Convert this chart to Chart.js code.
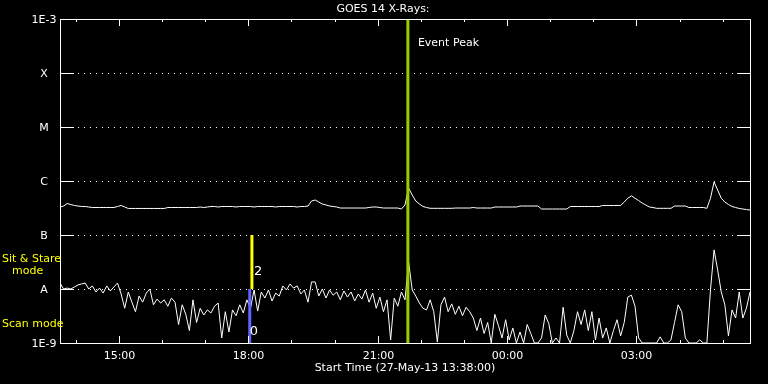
<!DOCTYPE html>
<html>
<head>
<meta charset="utf-8">
<title>GOES 14 X-Rays</title>
<script src="https://cdn.jsdelivr.net/npm/chart.js@4.4.1/dist/chart.umd.min.js"></script>
<style>
    html, body { margin: 0; padding: 0; background: #000; }
    #wrap { width: 768px; height: 384px; }
</style>
</head>
<body>
<div id="wrap"><canvas id="goes" width="768" height="384"></canvas></div>
<script>
'use strict';

// --- data (5 minute samples from 13:38 UT, 27-May-13) ---
const startMinute = 13 * 60 + 38;
const stepMinutes = 5;
const spanMinutes = 960;

const yDecades = [1e-9, 1e-8, 1e-7, 1e-6, 1e-5, 1e-4, 1e-3];
const yTickLabels = ['1E-9', 'A', 'B', 'C', 'M', 'X', '1E-3'];

// 1-8 A channel
const longFlux = [
    3.30e-7, 3.44e-7, 3.83e-7, 3.67e-7, 3.52e-7, 3.44e-7, 3.37e-7, 3.37e-7, 3.30e-7, 3.23e-7,
    3.23e-7, 3.23e-7, 3.23e-7, 3.23e-7, 3.23e-7, 3.23e-7, 3.37e-7, 3.52e-7, 3.30e-7, 3.10e-7,
    3.10e-7, 3.10e-7, 3.10e-7, 3.10e-7, 3.10e-7, 3.10e-7, 3.10e-7, 3.10e-7, 3.10e-7, 3.10e-7,
    3.23e-7, 3.23e-7, 3.23e-7, 3.23e-7, 3.23e-7, 3.23e-7, 3.23e-7, 3.23e-7, 3.23e-7, 3.30e-7,
    3.23e-7, 3.30e-7, 3.37e-7, 3.37e-7, 3.30e-7, 3.37e-7, 3.37e-7, 3.37e-7, 3.37e-7, 3.30e-7,
    3.37e-7, 3.37e-7, 3.37e-7, 3.37e-7, 3.30e-7, 3.37e-7, 3.37e-7, 3.37e-7, 3.37e-7, 3.37e-7,
    3.30e-7, 3.37e-7, 3.37e-7, 3.37e-7, 3.37e-7, 3.37e-7, 3.30e-7, 3.37e-7, 3.37e-7, 3.44e-7,
    4.26e-7, 4.45e-7, 4.08e-7, 3.75e-7, 3.60e-7, 3.44e-7, 3.37e-7, 3.30e-7, 3.16e-7, 3.16e-7,
    3.16e-7, 3.16e-7, 3.16e-7, 3.16e-7, 3.16e-7, 3.16e-7, 3.23e-7, 3.30e-7, 3.30e-7, 3.23e-7,
    3.16e-7, 3.16e-7, 3.16e-7, 3.16e-7, 3.16e-7, 3.03e-7, 3.60e-7, 7.40e-7, 5.50e-7, 4.26e-7,
    3.75e-7, 3.37e-7, 3.23e-7, 3.12e-7, 3.12e-7, 3.12e-7, 3.12e-7, 3.12e-7, 3.12e-7, 3.12e-7,
    3.16e-7, 3.16e-7, 3.16e-7, 3.16e-7, 3.16e-7, 3.23e-7, 3.16e-7, 3.16e-7, 3.16e-7, 3.16e-7,
    3.16e-7, 3.30e-7, 3.30e-7, 3.30e-7, 3.30e-7, 3.30e-7, 3.30e-7, 3.30e-7, 3.44e-7, 3.44e-7,
    3.44e-7, 3.44e-7, 3.44e-7, 3.44e-7, 3.03e-7, 3.03e-7, 3.03e-7, 3.03e-7, 3.03e-7, 3.03e-7,
    3.03e-7, 3.03e-7, 3.37e-7, 3.37e-7, 3.37e-7, 3.37e-7, 3.37e-7, 3.37e-7, 3.37e-7, 3.37e-7,
    3.37e-7, 3.52e-7, 3.52e-7, 3.52e-7, 3.52e-7, 3.52e-7, 3.52e-7, 4.08e-7, 4.80e-7, 5.30e-7,
    4.80e-7, 4.35e-7, 3.90e-7, 3.60e-7, 3.30e-7, 3.23e-7, 3.12e-7, 3.12e-7, 3.12e-7, 3.12e-7,
    3.12e-7, 3.44e-7, 3.44e-7, 3.44e-7, 3.44e-7, 3.23e-7, 3.23e-7, 3.23e-7, 3.23e-7, 3.23e-7,
    3.12e-7, 4.80e-7, 9.60e-7, 6.80e-7, 4.80e-7, 4.08e-7, 3.67e-7, 3.37e-7, 3.23e-7, 3.10e-7,
    3.03e-7, 2.96e-7, 2.90e-7
];

// 0.5-4 A channel
const shortFlux = [
    1.29e-8, 1.00e-8, 1.04e-8, 1.00e-8, 1.09e-8, 1.19e-8, 1.24e-8, 1.29e-8, 1.00e-8, 1.14e-8,
    8.8e-9, 1.04e-8, 8.4e-9, 1.14e-8, 9.2e-9, 1.09e-8, 1.29e-8, 8.1e-9, 4.4e-9, 8.8e-9,
    5.7e-9, 3.8e-9, 7.4e-9, 5.7e-9, 8.4e-9, 1.00e-8, 5.1e-9, 6.5e-9, 5.5e-9, 6.3e-9,
    4.8e-9, 6.8e-9, 5.7e-9, 2.2e-9, 5.1e-9, 3.4e-9, 1.7e-9, 6.3e-9, 2.4e-9, 4.4e-9,
    3.3e-9, 4.1e-9, 3.6e-9, 4.8e-9, 5.5e-9, 1.24e-9, 3.8e-9, 1.6e-9, 4.1e-9, 3.2e-9,
    5.1e-9, 3.6e-9, 6.3e-9, 4.4e-9, 9.6e-9, 3.9e-9, 8.8e-9, 6.8e-9, 9.6e-9, 6.0e-9,
    8.4e-9, 7.4e-9, 1.14e-8, 9.6e-9, 1.24e-8, 1.04e-8, 1.14e-8, 8.1e-9, 9.6e-9, 5.7e-9,
    1.35e-8, 1.35e-8, 7.4e-9, 1.00e-8, 6.8e-9, 9.6e-9, 7.7e-9, 8.8e-9, 6.3e-9, 9.2e-9,
    7.1e-9, 8.8e-9, 6.0e-9, 8.1e-9, 6.5e-9, 9.6e-9, 5.7e-9, 8.4e-9, 4.4e-9, 7.1e-9,
    3.8e-9, 6.3e-9, 1.14e-9, 6.8e-9, 4.8e-9, 8.8e-9, 6.3e-9, 3.16e-8, 9.6e-9, 7.4e-9,
    5.5e-9, 4.4e-9, 4.1e-9, 6.3e-9, 3.8e-9, 1.04e-9, 5.1e-9, 7.1e-9, 3.8e-9, 5.3e-9,
    3.4e-9, 4.8e-9, 3.2e-9, 4.6e-9, 3.8e-9, 2.9e-9, 1.7e-9, 2.9e-9, 1.5e-9, 2.4e-9,
    1.0e-9, 3.4e-9, 2.1e-9, 1.24e-9, 2.7e-9, 1.14e-9, 1.9e-9, 1.0e-9, 1.6e-9, 1.0e-9,
    2.2e-9, 1.5e-9, 1.0e-9, 1.0e-9, 1.24e-9, 3.3e-9, 2.3e-9, 1.0e-9, 1.24e-9, 1.0e-9,
    4.6e-9, 1.4e-9, 1.0e-9, 1.7e-9, 3.8e-9, 2.2e-9, 4.1e-9, 1.7e-9, 3.8e-9, 1.14e-9,
    2.9e-9, 1.24e-9, 1.9e-9, 1.0e-9, 1.7e-9, 2.7e-9, 1.35e-9, 2.4e-9, 7.1e-9, 7.7e-9,
    4.8e-9, 1.24e-9, 1.0e-9, 1.0e-9, 1.0e-9, 1.0e-9, 1.0e-9, 1.3e-9, 1.0e-9, 1.0e-9,
    1.14e-9, 2.4e-9, 5.1e-9, 3.8e-9, 1.24e-9, 1.0e-9, 1.0e-9, 1.0e-9, 1.14e-9, 1.0e-9,
    1.0e-9, 9.6e-9, 5.3e-8, 2.25e-8, 8.8e-9, 5.1e-9, 1.35e-9, 4.1e-9, 2.9e-9, 8.8e-9,
    2.9e-9, 4.4e-9, 8.8e-9
];

// markers: minutes after start
const eventPeakMinute = 484;      // 21:42
const sitStareMinute = 267;       // 18:05
const scanMinute = 264;           // 18:02

// --- helpers ---
function toPoints(values) {
    return values.map((v, i) => ({ x: i * stepMinutes, y: v }));
}
function vLine(minute, lo, hi) {
    return [{ x: minute, y: lo }, { x: minute, y: hi }];
}
function hhmm(minuteOfDay) {
    const m = ((minuteOfDay % 1440) + 1440) % 1440;
    const h = Math.floor(m / 60), mm = m % 60;
    return String(h).padStart(2, '0') + ':' + String(mm).padStart(2, '0');
}

const FONT = '11px "DejaVu Sans"';

const axesPlugin = {
    id: 'idlAxes',
    beforeDatasetsDraw(chart) {
        const { ctx, chartArea: a, scales: { y } } = chart;
        ctx.save();
        ctx.strokeStyle = '#fff';
        ctx.lineWidth = 1;
        ctx.setLineDash([1, 5]);
        for (let i = 1; i < yDecades.length - 1; i++) {
            const py = Math.round(y.getPixelForValue(yDecades[i])) + 0.5;
            ctx.beginPath();
            ctx.moveTo(a.left + 18, py);
            ctx.lineTo(a.right - 14, py);
            ctx.stroke();
        }
        ctx.restore();
    },
    afterDraw(chart) {
        const { ctx, chartArea: a, scales: { x, y } } = chart;
        ctx.save();
        ctx.strokeStyle = '#fff';
        ctx.fillStyle = '#fff';
        ctx.lineWidth = 1;
        ctx.strokeRect(Math.round(a.left) + 0.5, Math.round(a.top) + 0.5,
            Math.round(a.right - a.left), Math.round(a.bottom - a.top));

        // y ticks and labels
        ctx.font = FONT;
        ctx.textAlign = 'center';
        ctx.textBaseline = 'middle';
        yDecades.forEach((v, i) => {
            const py = Math.round(y.getPixelForValue(v)) + 0.5;
            if (i > 0 && i < yDecades.length - 1) {
                ctx.beginPath();
                ctx.moveTo(a.left, py); ctx.lineTo(a.left + 14, py);
                ctx.moveTo(a.right - 13, py); ctx.lineTo(a.right, py);
                ctx.stroke();
            }
            ctx.fillText(yTickLabels[i], 44, py + 1);
        });

        // x ticks (hourly, labelled every 3 h)
        const firstHour = Math.ceil(startMinute / 60) * 60;
        for (let m = firstHour; m < startMinute + spanMinutes; m += 60) {
            const px = Math.round(x.getPixelForValue(m - startMinute)) + 0.5;
            const major = (m / 60) % 3 === 0;
            const len = major ? 7 : 3;
            ctx.beginPath();
            ctx.moveTo(px, a.top); ctx.lineTo(px, a.top + len);
            ctx.moveTo(px, a.bottom); ctx.lineTo(px, a.bottom - len);
            ctx.stroke();
            if (major) ctx.fillText(hhmm(m), px, a.bottom + 13);
        }
        ctx.fillText('Start Time (27-May-13 ' + hhmm(startMinute) + ':00)', (a.left + a.right) / 2, a.bottom + 25);
        ctx.fillText('GOES 14 X-Rays:', 383, 9);

        // annotations
        ctx.textAlign = 'left';
        ctx.fillText('Event Peak', x.getPixelForValue(eventPeakMinute) + 10, 43);
        ctx.font = '13px "DejaVu Sans"';
        ctx.fillText('2', x.getPixelForValue(sitStareMinute) + 2, 272);
        ctx.fillText('0', x.getPixelForValue(scanMinute) + 0, 332);
        ctx.font = FONT;
        ctx.fillStyle = '#ffff00';
        ctx.fillText('Sit & Stare', 2, 259);
        ctx.fillText('mode', 12, 271);
        ctx.fillText('Scan mode', 2, 324);
        ctx.restore();
    }
};

const bgPlugin = {
    id: 'bg',
    beforeDraw(chart) {
        const { ctx, width, height } = chart;
        ctx.save();
        ctx.fillStyle = '#000';
        ctx.fillRect(0, 0, width, height);
        ctx.restore();
    }
};

const lineStyle = { borderWidth: 1, pointRadius: 0, tension: 0, fill: false };

new Chart(document.getElementById('goes').getContext('2d'), {
    type: 'line',
    data: {
        datasets: [
            Object.assign({ label: 'Event Peak', data: vLine(eventPeakMinute, 1e-9, 1e-3), borderColor: '#9acd00' }, lineStyle, { borderWidth: 3 }),
            Object.assign({ label: 'Sit & Stare', data: vLine(sitStareMinute, 1e-8, 1e-7), borderColor: '#ffff00' }, lineStyle, { borderWidth: 3 }),
            Object.assign({ label: 'Scan', data: vLine(scanMinute, 1e-9, 1e-8), borderColor: '#6464ff' }, lineStyle, { borderWidth: 3 }),
            Object.assign({ label: '1-8 A', data: toPoints(longFlux), borderColor: '#ffffff' }, lineStyle),
            Object.assign({ label: '0.5-4 A', data: toPoints(shortFlux), borderColor: '#ffffff' }, lineStyle)
        ]
    },
    options: {
        responsive: false,
        animation: false,
        devicePixelRatio: 1,
        layout: { padding: { left: 60, top: 19, right: 18, bottom: 41 } },
        plugins: { legend: { display: false }, tooltip: { enabled: false } },
        scales: {
            x: { type: 'linear', min: 0, max: spanMinutes, display: false },
            y: { type: 'logarithmic', min: 1e-9, max: 1e-3, display: false }
        }
    },
    plugins: [bgPlugin, axesPlugin]
});
</script>
</body>
</html>
